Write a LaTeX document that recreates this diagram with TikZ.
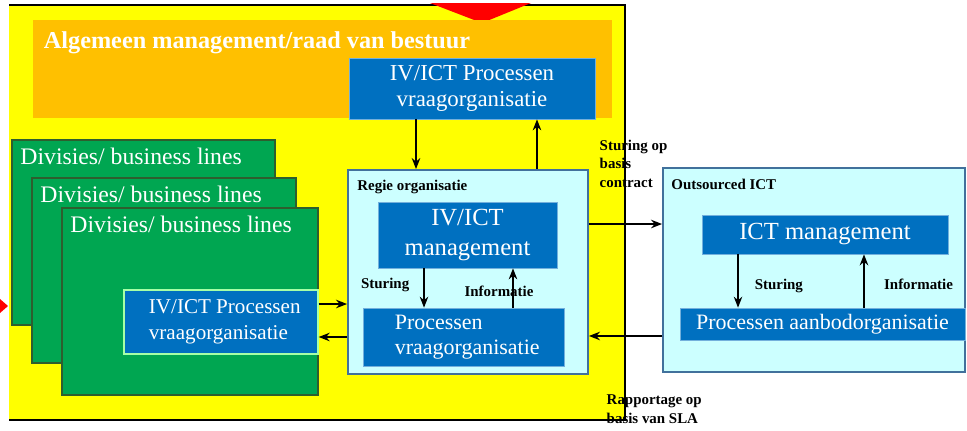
\documentclass[tikz,border=0pt]{standalone}
\usepackage{fontspec}
\setmainfont{Liberation Serif}
\usetikzlibrary{arrows.meta}

\definecolor{geel}{HTML}{FFFF00}
\definecolor{oranje}{HTML}{FFC000}
\definecolor{blauw}{HTML}{0070C0}
\definecolor{lichtblauw}{HTML}{CCFFFF}
\definecolor{groen}{HTML}{00A651}
\definecolor{groenrand}{HTML}{2E5E2E}
\definecolor{rand}{HTML}{41719C}

\begin{document}
\begin{tikzpicture}[
  x=0.02cm, y=-0.02cm,
  blok/.style={
    draw=blauw!55!white, line width=0.4pt, fill=blauw, text=white,
    align=center, inner sep=2pt, font=\fontsize{12.5}{14.5}\selectfont
  },
  kader/.style={draw=rand, line width=1.1pt, fill=lichtblauw},
  divisie/.style={
    draw=groenrand, line width=0.9pt, fill=groen,
    minimum width=5.2cm, minimum height=3.72cm
  },
  divlbl/.style={anchor=north west, text=white, xshift=0.06cm, yshift=-0.06cm,
    font=\fontsize{13.5}{16}\selectfont},
  arr/.style={-{Stealth[length=2.2mm,width=1.7mm]}, line width=0.9pt},
  lbl/.style={font=\bfseries\fontsize{8.5}{10.5}\selectfont, align=left, inner sep=0pt},
]
\useasboundingbox (0,0) rectangle (967,430);

% achtergrond organisatie
\fill[geel] (9,5) rectangle (625,420);
\draw[line width=1pt] (9,5) -- (625,5) -- (625,420) -- (9,420);
\fill[red] (430,3) -- (531,3) -- (482,23) -- cycle;
\fill[red] (0,299) -- (8,306) -- (0,313) -- cycle;

\node[fill=oranje, minimum width=11.58cm, minimum height=1.96cm,
  label={[anchor=north west, text=white, xshift=0.1cm, yshift=-0.12cm,
  font=\bfseries\fontsize{13.8}{16}\selectfont]north west:Algemeen management/raad van bestuur}]
  (bestuur) at (322.5,69) {};
\node[blok, minimum width=4.92cm, minimum height=1.22cm,
  font=\fontsize{13}{15}\selectfont] (topblauw) at (472,88.5)
  {IV/ICT Processen\\vraagorganisatie};

% divisies
\node[divisie, minimum width=5.26cm, minimum height=3.7cm,
  label={[divlbl]north west:Divisies/ business lines}] (div1) at (143.5,232.5) {};
\node[divisie, minimum width=5.28cm, minimum height=3.7cm,
  label={[divlbl]north west:Divisies/ business lines}] (div2) at (164,270.5) {};
\node[divisie, minimum width=5.12cm, minimum height=3.74cm,
  label={[divlbl]north west:Divisies/ business lines}] (div3) at (190,301.5) {};
\node[blok, draw=green!35!white, line width=0.8pt, align=left,
  font=\fontsize{12}{14.5}\selectfont,
  minimum width=3.88cm, minimum height=1.28cm] (divblauw) at (221,322)
  {\hspace*{0.15cm}IV/ICT Processen\\\hspace*{0.15cm}vraagorganisatie};

% regie organisatie
\node[kader, minimum width=4.8cm, minimum height=4.08cm,
  label={[lbl, anchor=north west, xshift=0.2cm, yshift=-0.22cm]north west:Regie organisatie}]
  (regie) at (468,272) {};
\node[blok, minimum width=3.58cm, minimum height=1.32cm,
  font=\fontsize{14}{17}\selectfont] (ivmgmt) at (467.5,235) {IV/ICT\\management};
\node[blok, align=left, minimum width=4.02cm, minimum height=1.16cm] (procvraag)
  at (463.5,337) {\hspace*{0.15cm}Processen\\\hspace*{0.15cm}vraagorganisatie};

% outsourced ICT
\node[kader, minimum width=6.04cm, minimum height=4.08cm,
  label={[lbl, anchor=north west, xshift=0.18cm, yshift=-0.24cm]north west:Outsourced ICT}]
  (outsourced) at (814,270) {};
\node[blok, minimum width=4.92cm, minimum height=0.78cm,
  font=\fontsize{14}{17}\selectfont] (ictmgmt) at (825,234.5) {ICT management};
\node[blok, minimum width=5.7cm, minimum height=0.64cm] (procaanbod) at (822.5,324)
  {Processen aanbodorganisatie};

% verbindingen
\draw[arr] ([xshift=-1.12cm]topblauw.south) -- ([xshift=-1.12cm]topblauw.south |- regie.north);
\draw[arr] ([xshift=1.3cm]topblauw.south |- regie.north) -- ([xshift=1.3cm]topblauw.south);

\draw[arr] ([yshift=0.36cm]divblauw.east) -- ([yshift=0.36cm]divblauw.east -| regie.west);
\draw[arr] ([yshift=-0.3cm]divblauw.east -| regie.west) -- ([yshift=-0.3cm]divblauw.east);

\draw[arr] ([xshift=-0.87cm]ivmgmt.south) --
  node[lbl, pos=0.43, left=0.28cm] {Sturing} ([xshift=-0.87cm]ivmgmt.south |- procvraag.north);
\draw[arr] ([xshift=0.91cm]ivmgmt.south |- procvraag.north) --
  node[lbl, pos=0.42, xshift=-0.28cm] {Informatie} ([xshift=0.91cm]ivmgmt.south);

\draw[arr] ([xshift=-1.74cm]ictmgmt.south) --
  node[lbl, pos=0.6, right=0.32cm] {Sturing} ([xshift=-1.74cm]ictmgmt.south |- procaanbod.north);
\draw[arr, line width=1.3pt] ([xshift=0.78cm]ictmgmt.south |- procaanbod.north) --
  node[lbl, pos=0.43, right=0.38cm] {Informatie} ([xshift=0.78cm]ictmgmt.south);

\draw[arr] ([yshift=0.96cm]regie.east) --
  node[lbl, pos=0, anchor=south west, xshift=0.2cm, yshift=0.72cm] {Sturing op\\basis\\contract}
  ([yshift=0.96cm]regie.east -| outsourced.west);
\draw[arr] ([yshift=-1.28cm]regie.east -| outsourced.west) --
  node[lbl, pos=1, anchor=north west, xshift=0.34cm, yshift=-1.16cm] {Rapportage op\\basis van SLA}
  ([yshift=-1.28cm]regie.east);

\end{tikzpicture}
\end{document}
